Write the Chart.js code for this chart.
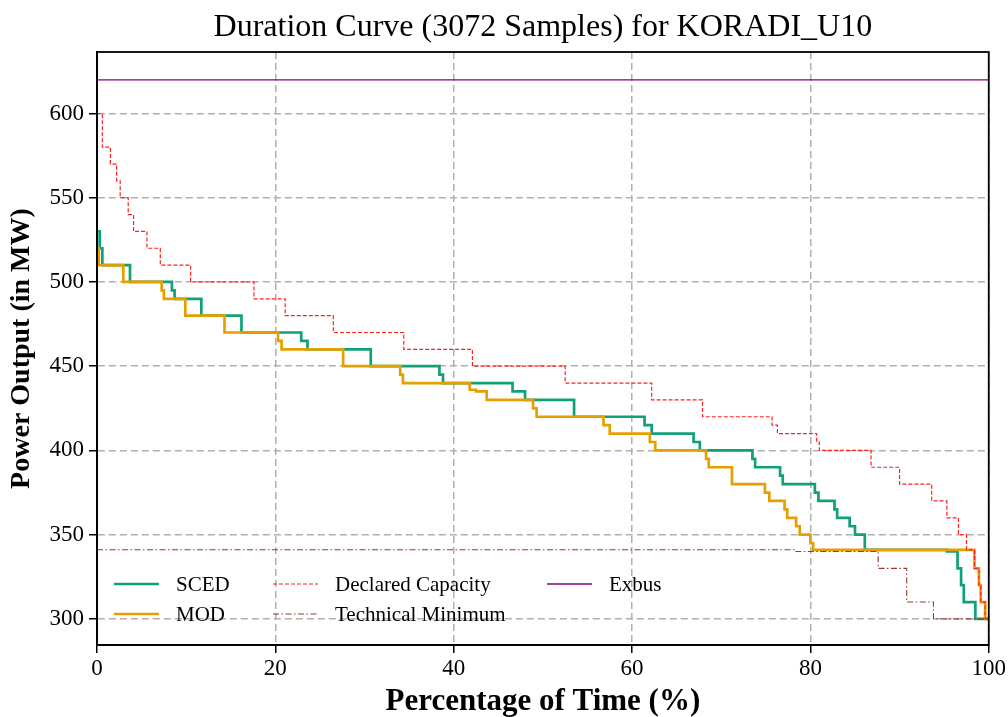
<!DOCTYPE html>
<html lang="en">
<head>
<meta charset="UTF-8">
<title>Duration Curve KORADI_U10</title>
<script src="https://cdn.jsdelivr.net/npm/chart.js"></script>
<style>
    body { margin: 0; background: #fff; }
    #wrap { width: 1008px; height: 717px; }
</style>
</head>
<body>
<div id="wrap"><canvas id="chart" width="1008" height="717"></canvas></div>
<script>
    const chartTitle = 'Duration Curve (3072 Samples) for KORADI_U10';
    const xLabel = 'Percentage of Time (%)';
    const yLabel = 'Power Output (in MW)';
    const xTicks = [0, 20, 40, 60, 80, 100];
    const yTicks = [300, 350, 400, 450, 500, 550, 600];

    // step curves: x = % of time where level starts, y = MW
    const scedX = [0, 0.3, 0.6, 3.7, 8.4, 8.7, 11.7, 16.2, 22.9, 23.6, 30.7, 38.4, 38.8, 46.6, 48.0, 53.5, 61.4, 62.2, 66.9, 67.6, 73.5, 73.8, 76.6, 76.9, 80.5, 80.9, 82.7, 83.0, 84.4, 85.0, 86.1, 95.3, 96.5, 96.9, 97.2, 98.5, 100];
    const scedY = [530, 520, 510, 500, 495, 490, 480, 470, 465, 460, 450, 445, 440, 435, 430, 420, 415, 410, 405, 400, 395, 390, 385, 380, 375, 370, 365, 360, 355, 350, 341, 340, 330, 320, 310, 300, 300];

    const modX = [0, 0.2, 2.95, 7.25, 7.5, 9.9, 14.3, 20.3, 20.7, 27.6, 34.0, 34.3, 41.8, 42.5, 43.7, 48.9, 49.3, 56.8, 57.5, 62.0, 62.6, 68.3, 68.6, 71.2, 74.9, 75.4, 77.1, 77.4, 78.4, 78.8, 80.0, 80.3, 98.4, 98.9, 99.1, 99.6, 100];
    const modY = [520, 510, 500, 495, 490, 480, 470, 465, 460, 450, 445, 440, 436, 435, 430, 425, 420, 415, 410, 405, 400, 395, 390, 380, 375, 370, 365, 360, 355, 350, 345, 341, 330, 320, 310, 300, 300];

    const declaredX = [0, 0.6, 1.5, 2.2, 2.6, 3.5, 4.1, 5.6, 7.1, 10.5, 17.6, 21.1, 26.5, 34.4, 42.1, 52.5, 62.2, 67.9, 75.7, 76.3, 80.7, 81.0, 86.8, 90.0, 93.6, 95.3, 96.6, 97.5, 98.4, 98.9, 99.1, 99.6, 100];
    const declaredY = [600, 580, 570, 560, 550, 540, 530, 520, 510, 500, 490, 480, 470, 460, 450, 440, 430, 420, 415, 410, 405, 400, 390, 380, 370, 360, 350, 341, 330, 320, 310, 300, 300];

    const techMinX = [0, 78.3, 87.6, 90.8, 93.8, 100];
    const techMinY = [341, 340, 330, 310, 300, 300];

    const exbusX = [0, 100];
    const exbusY = [620, 620];

    const serif = '"Liberation Serif", "Times New Roman", serif';

    function pts(xs, ys) {
        return xs.map((x, i) => ({ x: x, y: ys[i] }));
    }

    const datasets = [
        { label: 'SCED', data: pts(scedX, scedY), borderColor: '#12a07a', borderWidth: 2.7, borderDash: [], order: 5 },
        { label: 'MOD', data: pts(modX, modY), borderColor: '#e69f00', borderWidth: 2.7, borderDash: [], order: 4 },
        { label: 'Declared Capacity', data: pts(declaredX, declaredY), borderColor: '#ff2020', borderWidth: 1.2, borderDash: [4, 2], order: 3 },
        { label: 'Technical Minimum', data: pts(techMinX, techMinY), borderColor: '#98392f', borderWidth: 1.1, borderDash: [6, 2.5, 1.5, 2.5], order: 2 },
        { label: 'Exbus', data: pts(exbusX, exbusY), borderColor: '#800080', borderWidth: 1.3, borderDash: [], order: 1 }
    ].map(d => Object.assign(d, { stepped: true, pointRadius: 0, tension: 0, fill: false }));

    // frame, title and legend drawn on top
    const decorations = {
        id: 'decorations',
        afterDatasetsDraw(chart) {
            const ctx = chart.ctx;
            const a = chart.chartArea;
            ctx.save();
            ctx.strokeStyle = '#000';
            ctx.lineWidth = 1.8;
            ctx.setLineDash([]);
            ctx.strokeRect(a.left, a.top, a.right - a.left, a.bottom - a.top);

            // legend, 3 columns, column-major
            const colX = [114, 273, 547];
            const rowY = [584, 614];
            ctx.font = '21px ' + serif;
            ctx.textBaseline = 'middle';
            ctx.fillStyle = '#000';
            chart.data.datasets.forEach((ds, i) => {
                const x = colX[Math.floor(i / 2)];
                const y = rowY[i % 2];
                ctx.beginPath();
                ctx.strokeStyle = ds.borderColor;
                ctx.lineWidth = ds.borderWidth;
                ctx.setLineDash(ds.borderDash);
                ctx.moveTo(x, y);
                ctx.lineTo(x + 45, y);
                ctx.stroke();
                ctx.setLineDash([]);
                ctx.fillText(ds.label, x + 62, y + 1);
            });

            ctx.font = '32px ' + serif;
            ctx.textAlign = 'center';
            ctx.textBaseline = 'alphabetic';
            ctx.fillText(chartTitle, (a.left + a.right) / 2, 36);
            ctx.restore();
        }
    };

    const gridStyle = {
        color: '#b0b0b0',
        lineWidth: 1.5,
        tickColor: '#000',
        tickWidth: 1.5,
        tickLength: 8,
        tickBorderDash: []
    };

    new Chart(document.getElementById('chart'), {
        type: 'line',
        data: { datasets: datasets },
        options: {
            responsive: false,
            animation: false,
            devicePixelRatio: 1,
            layout: { padding: { top: 52, right: 19, left: 0, bottom: 0 } },
            plugins: {
                legend: { display: false },
                title: { display: false },
                tooltip: { enabled: false }
            },
            scales: {
                x: {
                    type: 'linear',
                    min: 0,
                    max: 100,
                    afterBuildTicks: s => { s.ticks = xTicks.map(v => ({ value: v })); },
                    afterFit: s => { s.height = 72; },
                    ticks: { color: '#000', font: { family: serif, size: 23 }, padding: 2, maxRotation: 0, autoSkip: false },
                    grid: gridStyle,
                    border: { display: true, color: '#000', width: 1.8, dash: [7, 4] },
                    title: { display: true, text: xLabel, color: '#000', font: { family: serif, size: 31, weight: 'bold', lineHeight: 1.0 }, padding: { top: 0, bottom: 0 } }
                },
                y: {
                    type: 'linear',
                    min: 284.5,
                    max: 636.5,
                    afterBuildTicks: s => { s.ticks = yTicks.map(v => ({ value: v })); },
                    afterFit: s => { s.width = 97; },
                    ticks: { color: '#000', font: { family: serif, size: 23 }, padding: 5, autoSkip: false },
                    grid: gridStyle,
                    border: { display: true, color: '#000', width: 1.8, dash: [7, 4] },
                    title: { display: true, text: yLabel, color: '#000', font: { family: serif, size: 28, weight: 'bold', lineHeight: 1.0 }, padding: { top: 8, bottom: 0 } }
                }
            }
        },
        plugins: [decorations]
    });
</script>
</body>
</html>
